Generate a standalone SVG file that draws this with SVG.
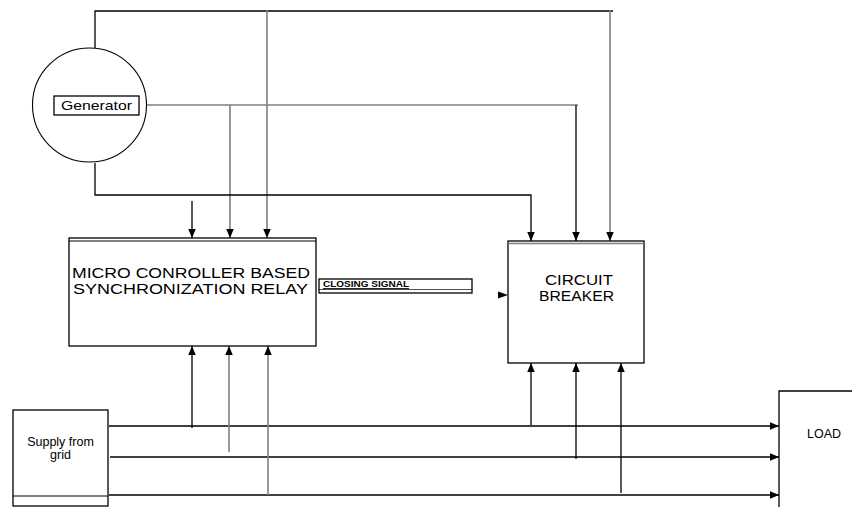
<svg xmlns="http://www.w3.org/2000/svg" width="852" height="507" viewBox="0 0 852 507">
<style>
.ln{fill:none;stroke:#000;stroke-width:1.3}
.gr{fill:none;stroke:#7f7f7f;stroke-width:1.6}
.bx{fill:#fff;stroke:#000;stroke-width:1.3}
.t{font-family:"Liberation Sans",Arial,sans-serif;fill:#000}
</style>
<defs>
<marker id="ah" markerUnits="userSpaceOnUse" markerWidth="10" markerHeight="8" refX="9" refY="3.75" orient="auto">
<path d="M0,0 L9,3.75 L0,7.5 Z" fill="#000"/>
</marker>
</defs>
<rect width="852" height="507" fill="#fff"/>
<g id="connectors">
<path class="ln" d="M95,48 V11 H613"/>
<path class="gr" d="M610,10 V241" marker-end="url(#ah)"/>
<path class="gr" d="M267,10 V238" marker-end="url(#ah)"/>
<path class="gr" d="M146,105 H578"/>
<path class="ln" d="M576,105 V241" marker-end="url(#ah)"/>
<path class="gr" d="M230,105 V238" marker-end="url(#ah)"/>
<path class="ln" d="M95,163 V195 H531 V241" marker-end="url(#ah)"/>
<path class="ln" d="M192,201 V238" marker-end="url(#ah)"/>
<path d="M498,291.5 L508,295 L498,298.5 Z" fill="#000"/>
<path class="ln" d="M109,426 H779" marker-end="url(#ah)"/>
<path class="ln" d="M110,457 H779" marker-end="url(#ah)"/>
<path class="ln" d="M109,495 H779" marker-end="url(#ah)"/>
<path class="ln" d="M192,428 V346" marker-end="url(#ah)"/>
<path class="gr" d="M229,452 V346" marker-end="url(#ah)"/>
<path class="gr" d="M268,495 V346" marker-end="url(#ah)"/>
<path class="ln" d="M531,425 V363" marker-end="url(#ah)"/>
<path class="ln" d="M576,459 V363" marker-end="url(#ah)"/>
<path class="ln" d="M621,493 V363" marker-end="url(#ah)"/>
</g>
<g id="generator">
<circle cx="89.5" cy="105" r="57" fill="none" stroke="#000" stroke-width="1.1"/>
<rect class="bx" x="54" y="96" width="85" height="19"/>
<text class="t" x="61" y="110" font-size="13.5" textLength="71" lengthAdjust="spacingAndGlyphs">Generator</text>
</g>
<g id="relay">
<rect class="bx" x="69" y="238" width="247" height="108"/>
<line x1="69" y1="241" x2="316" y2="241" stroke="#000" stroke-width="1"/>
<text class="t" x="72" y="278" font-size="14.5" textLength="238" lengthAdjust="spacingAndGlyphs">MICRO CONROLLER BASED</text>
<text class="t" x="73" y="294" font-size="14.5" textLength="235" lengthAdjust="spacingAndGlyphs">SYNCHRONIZATION RELAY</text>
</g>
<g id="closing-signal">
<rect class="bx" x="319" y="279" width="153" height="14" stroke-width="1"/>
<line x1="319" y1="289.5" x2="472" y2="289.5" stroke="#000" stroke-width="0.7"/>
<text class="t" x="323" y="287" font-size="8.5" font-weight="bold" text-decoration="underline" textLength="86" lengthAdjust="spacingAndGlyphs">CLOSING SIGNAL</text>
</g>
<g id="breaker">
<rect class="bx" x="508" y="241" width="136" height="122"/>
<line x1="508" y1="243.5" x2="644" y2="243.5" stroke="#7f7f7f" stroke-width="1.5"/>
<text class="t" x="545" y="285" font-size="14.5" textLength="68" lengthAdjust="spacingAndGlyphs">CIRCUIT</text>
<text class="t" x="539" y="301" font-size="14.5" textLength="75" lengthAdjust="spacingAndGlyphs">BREAKER</text>
</g>
<g id="supply">
<rect class="bx" x="13" y="410" width="95" height="96"/>
<line x1="13" y1="496" x2="108" y2="496" stroke="#000" stroke-width="1"/>
<text class="t" x="60.5" y="446" font-size="12.5" text-anchor="middle">Supply from</text>
<text class="t" x="60.5" y="459" font-size="12.5" text-anchor="middle">grid</text>
</g>
<g id="load">
<path class="ln" d="M852,391 H779 V507"/>
<text class="t" x="807" y="438" font-size="12.5">LOAD</text>
</g>
</svg>
